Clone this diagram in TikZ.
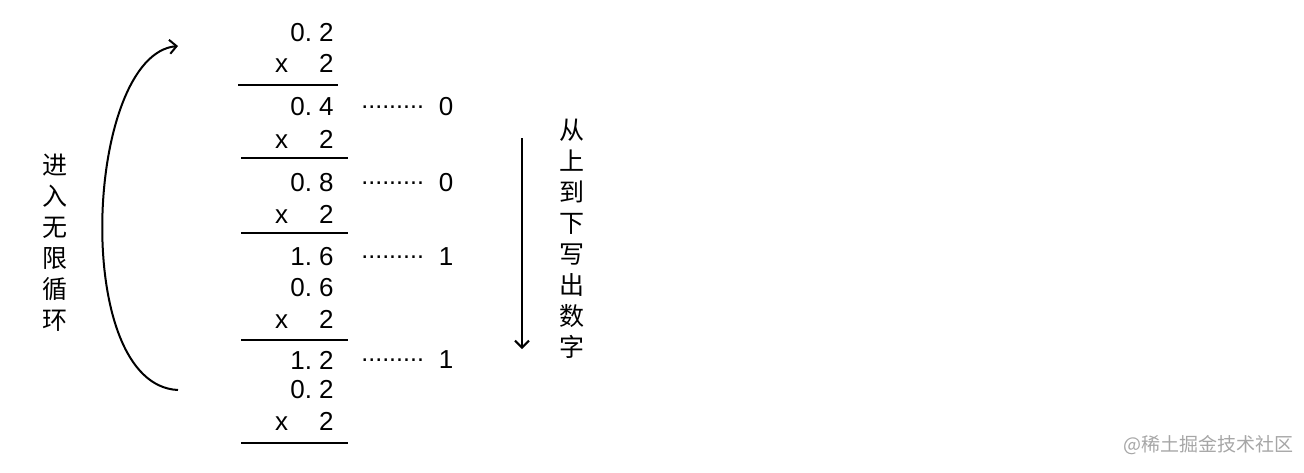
\documentclass[tikz,border=0pt]{standalone}
\usepackage{fontspec}
\setmainfont{Liberation Sans}
\newfontfamily\cjk{Noto Sans CJK SC}
\usetikzlibrary{positioning, arrows.meta}

\begin{document}
\begin{tikzpicture}[x=0.5pt, y=-0.5pt,
    >={Straight Barb[length=3.5pt, width=7pt]},
    num/.style={anchor=east, inner sep=0pt, font=\fontsize{13}{15}\selectfont},
    dots/.style={anchor=west, inner sep=0pt, font=\fontsize{12.5}{14}\selectfont},
    bit/.style={inner sep=0pt, font=\fontsize{13}{15}\selectfont},
    rule/.style={line width=1pt},
    vtext/.style={align=center, inner sep=0pt, font=\cjk\fontsize{12.5}{15.5}\selectfont}]
            \useasboundingbox (0,0) rectangle (1304,472);
            \def \xtimes {x\hspace{15.5pt}2}

            % column of products
            \node [num] (m1) at (334, 33) {0.\hspace{3.5pt}2};
            \node [num] (x1) at (334, 63) {\xtimes};
            \draw [rule] (238, 85) -- (338, 85);
            \node [num] (p1) at (334, 107) {0.\hspace{3.5pt}4};
            \node [num] (x2) at (334, 139) {\xtimes};
            \draw [rule] (241, 158) -- (348, 158);
            \node [num] (p2) at (334, 183) {0.\hspace{3.5pt}8};
            \node [num] (x3) at (334, 214) {\xtimes};
            \draw [rule] (241, 233) -- (348, 233);
            \node [num] (p3) at (334, 257) {1.\hspace{3.5pt}6};
            \node [num] (m4) at (334, 288) {0.\hspace{3.5pt}6};
            \node [num] (x4) at (334, 319) {\xtimes};
            \draw [rule] (241, 340) -- (348, 340);
            \node [num] (p4) at (334, 360) {1.\hspace{3.5pt}2};
            \node [num] (m5) at (334, 390) {0.\hspace{3.5pt}2};
            \node [num] (x5) at (334, 421) {\xtimes};
            \draw [rule] (241, 443) -- (348, 443);

            % integer parts
            \node [dots] (d1) at (361, 107) {.........};
            \node [bit] (b1) at (446, 107) {0};
            \node [dots] (d2) at (361, 183) {.........};
            \node [bit] (b2) at (446, 183) {0};
            \node [dots] (d3) at (361, 257) {.........};
            \node [bit] (b3) at (446, 257) {1};
            \node [dots] (d4) at (361, 360) {.........};
            \node [bit] (b4) at (446, 360) {1};

            % endless loop
            \coordinate (loopin) at (178, 390);
            \coordinate (loopout) at (178, 46);
            \draw [rule, ->] (loopin) .. controls (70, 385) and (85, 55) .. (loopout);
            \node [vtext] (looptext) at (55, 243) {进\\入\\无\\限\\循\\环};

            % reading direction
            \coordinate (readtop) at (522, 138);
            \coordinate (readbot) at (522, 349);
            \draw [rule, ->] (readtop) -- (readbot);
            \node [vtext] (readtext) at (572, 239) {从\\上\\到\\下\\写\\出\\数\\字};

            \node [inner sep=0pt, text=black!35, font=\cjk\fontsize{9.5}{11}\selectfont] (mark) at (1208, 445) {@稀土掘金技术社区};
\end{tikzpicture}
\end{document}
